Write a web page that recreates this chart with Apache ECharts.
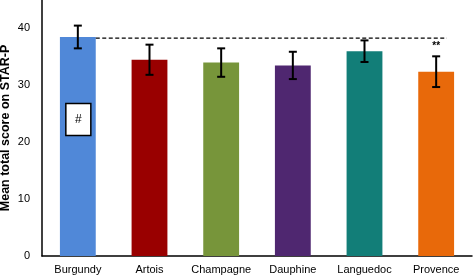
<!DOCTYPE html>
<html><head><meta charset="utf-8">
<script src="https://cdn.jsdelivr.net/npm/echarts@6/dist/echarts.min.js"></script>
<style>html,body{margin:0;padding:0;background:#fff}#c{width:473px;height:278px}</style>
</head><body><div id="c"></div>
<script>
const categories = ['Burgundy','Artois','Champagne','Dauphine','Languedoc','Provence'];
const means = [38.5, 34.5, 34.0, 33.5, 36.0, 32.4];
const errors = [2.0, 2.65, 2.5, 2.4, 1.9, 2.7];
const colors = ['#5088D8','#990000','#77953A','#4F2770','#127E78','#E8690A'];
const yTicks = [0, 10, 20, 30, 40];
const refValue = 38.3;
const hashValue = 24;
const starLabel = '**';
const starIndex = 5;

const chart = echarts.init(document.getElementById('c'), null, {renderer:'canvas'});
const font = 'Liberation Sans, Arial, sans-serif';
chart.setOption({
  animation:false,
  grid:{left:42, right:1, top:0, bottom:22, containLabel:false, outerBoundsMode:'none'},
  xAxis:{type:'category', data:categories,
    axisLine:{lineStyle:{color:'#000', width:1.5}}, axisTick:{show:false},
    axisLabel:{color:'#000', fontFamily:font, fontSize:11, margin:8, interval:0}},
  yAxis:{type:'value', min:0, max:45, interval:10,
    axisLine:{show:true, lineStyle:{color:'#000', width:1.5}}, axisTick:{show:false},
    splitLine:{show:false},
    axisLabel:{color:'#000', fontFamily:font, fontSize:11, margin:12,
      formatter:v => yTicks.includes(v) ? String(v) : ''},
    name:'Mean total score on STAR-P', nameLocation:'middle', nameGap:30, nameMoveOverlap:false,
    nameTextStyle:{color:'#000', fontFamily:font, fontSize:12.5, fontWeight:'bold'}},
  series:[
    {type:'bar', barWidth:'50%', data:means.map((v,i)=>({value:v, itemStyle:{color:colors[i]}}))},
    {type:'custom', z:5, data:means.map((v,i)=>[i, v, errors[i]]),
      renderItem:(params, api)=>{
        const i = api.value(0), m = api.value(1), e = api.value(2);
        const top = api.coord([i, m+e]), bot = api.coord([i, m-e]);
        const st = {stroke:'#000', lineWidth:2};
        const children = [
          {type:'line', shape:{x1:top[0], y1:top[1], x2:bot[0], y2:bot[1]}, style:st},
          {type:'line', shape:{x1:top[0]-4, y1:top[1], x2:top[0]+4, y2:top[1]}, style:st},
          {type:'line', shape:{x1:bot[0]-4, y1:bot[1], x2:bot[0]+4, y2:bot[1]}, style:st}
        ];
        if (i === starIndex) {
          children.push({type:'text', style:{x:top[0], y:top[1]-5, text:starLabel, fill:'#000',
            font:'bold 10px '+font, textAlign:'center', textVerticalAlign:'bottom'}});
        }
        if (i === 0) {
          const c = api.coord([0, hashValue]);
          children.push({type:'rect', shape:{x:c[0]-12, y:c[1]-16, width:25, height:32},
            style:{fill:'#fff', stroke:'#000', lineWidth:1.5}});
          children.push({type:'text', style:{x:c[0]+0.5, y:c[1], text:'#', fill:'#000',
            font:'12px '+font, textAlign:'center', textVerticalAlign:'middle'}});
        }
        return {type:'group', children};
      }},
    {type:'custom', z:4, data:[[0, refValue]],
      renderItem:(params, api)=>{
        const half = api.size([1,0])[0]/4;
        const a = api.coord([0, api.value(1)]);
        const b = api.coord([categories.length-1, api.value(1)]);
        return {type:'line', shape:{x1:a[0]+half, y1:a[1], x2:b[0]+half*0.6, y2:b[1]},
          style:{stroke:'#000', lineWidth:1.3, lineDash:[4,2.5]}};
      }}
  ]
});
</script></body></html>
